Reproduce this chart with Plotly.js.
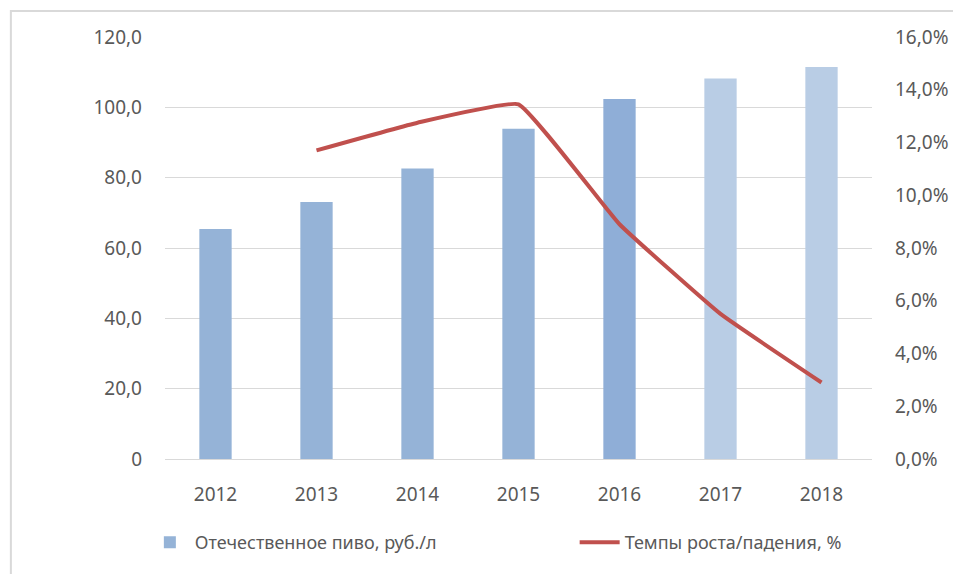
<!DOCTYPE html>
<html>
<head>
<meta charset="utf-8">
<script src="https://cdn.plot.ly/plotly-3.0.1.min.js"></script>
<style>
  html, body { margin: 0; padding: 0; background: #fff; }
  #chart { width: 953px; height: 574px; }
</style>
</head>
<body>
<div id="chart"></div>
<script>
"use strict";

/******** data ********/
var years = ['2012', '2013', '2014', '2015', '2016', '2017', '2018'];
var pricePerLitre = [65.4, 73.1, 82.6, 93.9, 102.4, 108.2, 111.5];
var growthPct = [null, 11.7, 12.75, 13.45, 8.9, 5.5, 2.9];
var barColors = ['#95B3D7', '#95B3D7', '#95B3D7', '#95B3D7', '#8FAED7', '#B9CDE5', '#B9CDE5'];

var leftTickVals = [0, 20, 40, 60, 80, 100, 120];
var leftTickText = ['0', '20,0', '40,0', '60,0', '80,0', '100,0', '120,0'];
var rightTickVals = [0, 2, 4, 6, 8, 10, 12, 14, 16];
var rightTickText = ['0,0%', '2,0%', '4,0%', '6,0%', '8,0%', '10,0%', '12,0%', '14,0%', '16,0%'];

var barName = 'Отечественное пиво, руб./л';
var lineName = 'Темпы роста/падения, %';

/******** traces ********/
var data = [
  {
    x: years,
    y: pricePerLitre,
    name: barName,
    type: 'bar',
    marker: { color: barColors },
    legend: 'legend',
    hoverinfo: 'x+y'
  },
  {
    x: years,
    y: growthPct,
    name: lineName,
    type: 'scatter',
    mode: 'lines',
    yaxis: 'y2',
    legend: 'legend2',
    line: { color: '#C0504D', width: 4, shape: 'spline', smoothing: 0.3 },
    connectgaps: false
  }
];

var fontFamily = 'Noto Sans, Open Sans, sans-serif';
var axisFont = { family: fontFamily, size: 19, color: '#595959' };
var legendFont = { family: fontFamily, size: 18, color: '#595959' };

var layout = {
  width: 953,
  height: 574,
  margin: { l: 165, r: 81, t: 37, b: 115 },
  paper_bgcolor: '#ffffff',
  plot_bgcolor: '#ffffff',
  bargap: 0.68,
  showlegend: true,
  font: axisFont,
  xaxis: {
    type: 'category',
    showgrid: false,
    showline: false,
    ticks: '',
    tickfont: axisFont,
    ticklabelstandoff: 22
  },
  yaxis: {
    range: [0, 120],
    tickvals: leftTickVals,
    ticktext: leftTickText,
    showgrid: true,
    gridcolor: '#D9D9D9',
    gridwidth: 1,
    zeroline: true,
    zerolinecolor: '#D9D9D9',
    zerolinewidth: 1,
    showline: false,
    ticks: '',
    tickfont: axisFont,
    ticklabelstandoff: 22
  },
  yaxis2: {
    overlaying: 'y',
    side: 'right',
    range: [0, 16],
    tickvals: rightTickVals,
    ticktext: rightTickText,
    showgrid: false,
    zeroline: false,
    showline: false,
    ticks: '',
    tickfont: axisFont,
    ticklabelstandoff: 22
  },
  legend: {
    orientation: 'h',
    xref: 'container',
    x: 0.152,
    xanchor: 'left',
    yref: 'container',
    y: 0.055,
    yanchor: 'middle',
    font: legendFont,
    itemwidth: 40
  },
  legend2: {
    orientation: 'h',
    xref: 'container',
    x: 0.603,
    xanchor: 'left',
    yref: 'container',
    y: 0.055,
    yanchor: 'middle',
    font: legendFont,
    itemwidth: 40
  },
  shapes: [
    {   /* chart frame (partly cropped in the source picture) */
      type: 'rect',
      xref: 'paper', yref: 'paper',
      x0: -0.218, x1: 1.3,
      y0: -0.5, y1: 1.0616,
      line: { color: '#D9D9D9', width: 2 },
      fillcolor: 'rgba(0,0,0,0)',
      layer: 'below'
    }
  ]
};

Plotly.newPlot('chart', data, layout, { displayModeBar: false, staticPlot: true });
</script>
</body>
</html>
